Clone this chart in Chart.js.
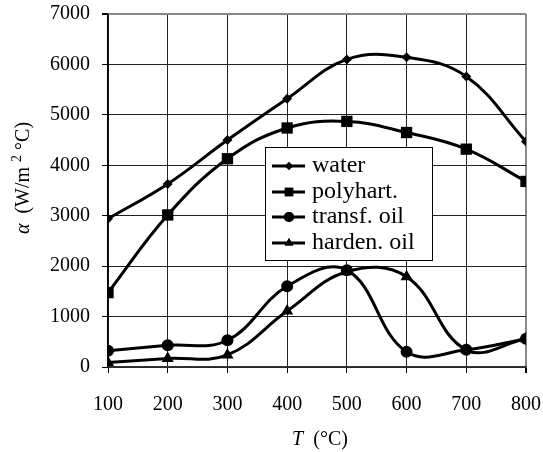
<!DOCTYPE html>
<html>
<head>
<meta charset="utf-8">
<script src="https://cdn.jsdelivr.net/npm/chart.js@4/dist/chart.umd.min.js"></script>
<style>
  body { margin: 0; background: #fff; }
  #wrap { width: 543px; height: 452px; }
</style>
</head>
<body>
<div id="wrap"><canvas id="chart" width="543" height="452"></canvas></div>
<script>
// temperatures (°C)
const temps = [100, 200, 300, 400, 500, 600, 700, 800];

// heat transfer coefficient values, W/m2 °C
const water = [2940, 3630, 4500, 5320, 6100, 6140, 5760, 4470];
const polyhart = [1475, 3015, 4130, 4740, 4870, 4650, 4320, 3680];
const transfOil = [320, 430, 530, 1600, 1920, 300, 340, 560];
const hardenOil = [90, 170, 240, 1110, 1890, 1790, 340, 560];

const seriesNames = ['water', 'polyhart.', 'transf. oil', 'harden. oil'];
const yTicks = [0, 1000, 2000, 3000, 4000, 5000, 6000, 7000];

const FONT = '"Liberation Serif", "Times New Roman", serif';

function pts(vals) {
  return temps.map((t, i) => ({ x: t, y: vals[i] }));
}

function makeSet(label, vals, style, radius) {
  return {
    label: label,
    data: pts(vals),
    borderColor: '#000',
    backgroundColor: '#000',
    borderWidth: 3,
    pointStyle: style,
    pointRadius: radius,
    pointBorderWidth: 0,
    tension: 0.4
  };
}

// legend, axis titles
const extras = {
  id: 'extras',
  afterDraw(chart) {
    const ctx = chart.ctx;
    ctx.save();
    ctx.fillStyle = '#000';

    // y title
    ctx.save();
    ctx.translate(24, 178);
    ctx.rotate(-Math.PI / 2);
    ctx.textBaseline = 'middle';
    const parts = [
      { t: 'α', f: 'italic 20px ' + FONT, dy: 0 },
      { t: '  (W/m ', f: '20px ' + FONT, dy: 0 },
      { t: '2', f: '14px ' + FONT, dy: -7 },
      { t: ' °C)', f: '20px ' + FONT, dy: 0 }
    ];
    let total = 0;
    parts.forEach(p => { ctx.font = p.f; total += ctx.measureText(p.t).width; });
    let px = -total / 2;
    parts.forEach(p => {
      ctx.font = p.f;
      ctx.textAlign = 'left';
      ctx.fillText(p.t, px, p.dy);
      px += ctx.measureText(p.t).width;
    });
    ctx.restore();

    // x title
    const xparts = [
      { t: 'T', f: 'italic 20px ' + FONT },
      { t: '  (°C)', f: '20px ' + FONT }
    ];
    let w = 0;
    xparts.forEach(p => { ctx.font = p.f; w += ctx.measureText(p.t).width; });
    let xx = 320 - w / 2;
    ctx.textBaseline = 'middle';
    xparts.forEach(p => {
      ctx.font = p.f;
      ctx.textAlign = 'left';
      ctx.fillText(p.t, xx, 440);
      xx += ctx.measureText(p.t).width;
    });

    // legend box
    const bx = 265, by = 147, bw = 167, bh = 113;
    ctx.fillStyle = '#fff';
    ctx.fillRect(bx, by, bw, bh);
    ctx.strokeStyle = '#000';
    ctx.lineWidth = 1;
    ctx.strokeRect(bx + 0.5, by + 0.5, bw, bh);
    const rows = [166, 192, 217, 243];
    const sizes = [4, 6, 5, 5];
    chart.data.datasets.forEach((ds, i) => {
      const y = rows[i];
      ctx.strokeStyle = '#000';
      ctx.lineWidth = 3;
      ctx.beginPath();
      ctx.moveTo(272, y);
      ctx.lineTo(305, y);
      ctx.stroke();
      ctx.fillStyle = '#000';
      Chart.helpers.drawPoint(ctx, { pointStyle: ds.pointStyle, radius: sizes[i], borderWidth: 0 }, 289, y);
      ctx.fill();
      ctx.font = '24px ' + FONT;
      ctx.textAlign = 'left';
      ctx.textBaseline = 'middle';
      ctx.fillText(seriesNames[i], 312, y);
    });
    ctx.restore();
  }
};

const ctx = document.getElementById('chart').getContext('2d');
new Chart(ctx, {
  type: 'line',
  data: {
    datasets: [
      makeSet(seriesNames[0], water, 'rectRot', 5),
      makeSet(seriesNames[1], polyhart, 'rect', 8),
      makeSet(seriesNames[2], transfOil, 'circle', 6),
      makeSet(seriesNames[3], hardenOil, 'triangle', 7)
    ]
  },
  options: {
    responsive: false,
    animation: false,
    layout: { padding: { left: 0, right: 17, top: 14, bottom: 0 } },
    plugins: { legend: { display: false }, tooltip: { enabled: false } },
    scales: {
      x: {
        type: 'linear',
        min: 100,
        max: 800,
        afterFit(scale) {
          scale.height = 85;
          scale.paddingLeft = 0;
          scale.paddingRight = 0;
        },
        ticks: {
          stepSize: 100,
          padding: 20,
          color: '#000',
          font: { family: FONT, size: 20 }
        },
        grid: {
          color: c => c.tick && c.tick.value === 800 ? '#888' : '#222',
          lineWidth: c => c.tick && c.tick.value === 800 ? 2 : 1,
          tickColor: '#000',
          tickLength: 6
        },
        border: { color: '#333', width: 1.5 }
      },
      y: {
        min: 0,
        max: 7000,
        afterFit(scale) {
          scale.width = 108;
          scale.paddingTop = 0;
          scale.paddingBottom = 0;
        },
        afterBuildTicks(scale) { scale.ticks = yTicks.map(v => ({ value: v })); },
        ticks: {
          padding: 12,
          color: '#000',
          font: { family: FONT, size: 20 },
          callback: v => String(v)
        },
        grid: {
          color: c => c.tick && c.tick.value === 7000 ? '#888' : '#222',
          lineWidth: c => c.tick && c.tick.value === 7000 ? 2 : 1,
          tickColor: '#000',
          tickLength: 6
        },
        border: { color: '#000', width: 1.5 }
      }
    }
  },
  plugins: [extras]
});
</script>
</body>
</html>
